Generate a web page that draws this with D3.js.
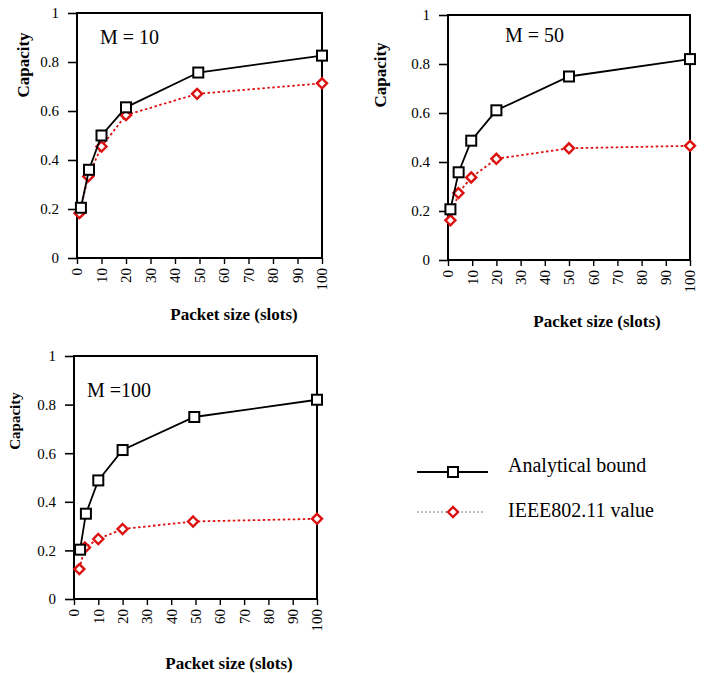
<!DOCTYPE html>
<html><head><meta charset="utf-8">
<script src="https://cdn.jsdelivr.net/npm/d3@7"></script>
</head><body style="margin:0;background:#fff">
<svg id="c" width="709" height="673" style="display:block"></svg>
<script>
// ---- data ----
const panelTitles = ["M = 10", "M = 50", "M =100"];
const xTicks = [0,10,20,30,40,50,60,70,80,90,100];
const yTicks = [0,0.2,0.4,0.6,0.8,1];
const yTickLabels = ["0","0.2","0.4","0.6","0.8","1"];
const seriesNames = ["Analytical bound", "IEEE802.11 value"];

const xAnalyticalM10 = [1.6, 4.9, 10, 20, 49.5, 100];
const analyticalM10  = [0.205, 0.36, 0.50, 0.615, 0.757, 0.826];
const xIeeeM10       = [1, 4.6, 10, 20, 49, 100];
const ieeeM10        = [0.183, 0.333, 0.455, 0.583, 0.670, 0.713];

const xAnalyticalM50 = [1, 4.4, 9.6, 20, 50, 100];
const analyticalM50  = [0.207, 0.358, 0.487, 0.611, 0.749, 0.820];
const xIeeeM50       = [1, 4.3, 9.6, 20, 50, 100];
const ieeeM50        = [0.162, 0.273, 0.337, 0.413, 0.456, 0.466];

const xAnalyticalM100 = [2.5, 4.9, 10, 20, 49.5, 100];
const analyticalM100  = [0.203, 0.351, 0.488, 0.613, 0.749, 0.820];
const xIeeeM100       = [2.2, 4.5, 10, 20, 49, 100];
const ieeeM100        = [0.123, 0.212, 0.247, 0.288, 0.319, 0.330];

// ---- layout ----
const panels = [
  {x0:77, x1:322, y0:13, y1:258, title:panelTitles[0], tx:100, ty:44, capX:23, capY:65, capSize:17, pkX:234, pkY:320,
   xa:xAnalyticalM10, ya:analyticalM10, xi:xIeeeM10, yi:ieeeM10},
  {x0:448, x1:690, y0:15, y1:260, title:panelTitles[1], tx:505, ty:42, capX:380, capY:75, capSize:17, pkX:597, pkY:327,
   xa:xAnalyticalM50, ya:analyticalM50, xi:xIeeeM50, yi:ieeeM50},
  {x0:74, x1:317, y0:356, y1:599, title:panelTitles[2], tx:87, ty:397, capX:15, capY:421, capSize:15, pkX:229, pkY:669,
   xa:xAnalyticalM100, ya:analyticalM100, xi:xIeeeM100, yi:ieeeM100}
];

const FONT = '"Liberation Serif"';
const svg = d3.select("#c");
const RED = "#dd1010";
const diamond = "M0,-5L5,0L0,5L-5,0Z";

panels.forEach(p => {
  const x = d3.scaleLinear().domain([0,100]).range([p.x0, p.x1]);
  const y = d3.scaleLinear().domain([0,1]).range([p.y1, p.y0]);
  const g = svg.append("g");

  // y axis
  const ya = g.append("g").attr("transform", `translate(${p.x0},0)`)
    .call(d3.axisLeft(y).tickValues(yTicks).tickFormat((d,i)=>yTickLabels[i]).tickSize(9).tickPadding(9));
  ya.attr("font-family", null).attr("font-size", null);
  ya.select(".domain").remove();
  ya.selectAll("line").attr("stroke","#000").attr("stroke-width",1.6);
  ya.selectAll("text").style("font-size","15px");

  // x axis
  const xa = g.append("g").attr("transform", `translate(0,${p.y1})`)
    .call(d3.axisBottom(x).tickValues(xTicks).tickSize(6));
  xa.attr("font-family", null).attr("font-size", null);
  xa.select(".domain").remove();
  xa.selectAll("line").attr("stroke","#000").attr("stroke-width",1.4);
  xa.selectAll("text").style("font-size","15px")
    .attr("transform","rotate(-90)").attr("text-anchor","end")
    .attr("x",-10).attr("y",0).attr("dy","0.33em");

  // frame
  g.append("rect").attr("x",p.x0).attr("y",p.y0).attr("width",p.x1-p.x0).attr("height",p.y1-p.y0)
    .attr("fill","none").attr("stroke","#000").attr("stroke-width",2);

  // labels
  g.append("text").attr("transform",`translate(${p.capX},${p.capY}) rotate(-90)`)
    .attr("text-anchor","middle").attr("dy","0.35em").style("font-weight","bold").style("font-size",p.capSize+"px").text("Capacity");
  g.append("text").attr("x",p.pkX).attr("y",p.pkY).attr("text-anchor","middle")
    .style("font-weight","bold").style("font-size","17px").text("Packet size (slots)");
  g.append("text").attr("x",p.tx).attr("y",p.ty).style("font-size","20px").text(p.title);

  const line = d3.line().x(d=>x(d[0])).y(d=>y(d[1]));
  const ieee = p.xi.map((v,i)=>[v,p.yi[i]]);
  const anal = p.xa.map((v,i)=>[v,p.ya[i]]);

  g.append("path").datum(ieee).attr("d",line).attr("fill","none").attr("stroke",RED)
    .attr("stroke-width",1.8).attr("stroke-dasharray","2.5,2.5");
  g.selectAll(".dm").data(ieee).enter().append("path")
    .attr("transform",d=>`translate(${x(d[0])},${y(d[1])})`).attr("d",diamond)
    .attr("fill","#fff").attr("stroke",RED).attr("stroke-width",2.4);

  g.append("path").datum(anal).attr("d",line).attr("fill","none").attr("stroke","#000").attr("stroke-width",1.8);
  g.selectAll(".sq").data(anal).enter().append("rect")
    .attr("x",d=>x(d[0])-5).attr("y",d=>y(d[1])-5).attr("width",10).attr("height",10)
    .attr("fill","#fff").attr("stroke","#000").attr("stroke-width",2);
});

// legend
const lg = svg.append("g");
lg.append("line").attr("x1",417).attr("x2",488).attr("y1",472).attr("y2",472).attr("stroke","#000").attr("stroke-width",1.8);
lg.append("rect").attr("x",448).attr("y",467).attr("width",10).attr("height",10).attr("fill","#fff").attr("stroke","#000").attr("stroke-width",2);
lg.append("text").attr("x",508).attr("y",472).style("font-size","20px").text(seriesNames[0]);
lg.append("line").attr("x1",417).attr("x2",484).attr("y1",512).attr("y2",512).attr("stroke","#777").attr("stroke-width",1).attr("stroke-dasharray","2,2");
lg.append("path").attr("transform","translate(453,512)").attr("d",diamond).attr("fill","#fff").attr("stroke",RED).attr("stroke-width",2.4);
lg.append("text").attr("x",508).attr("y",517).style("font-size","20px").text(seriesNames[1]);

svg.selectAll("text").style("font-family", FONT).attr("fill","#000");
</script>
</body></html>
